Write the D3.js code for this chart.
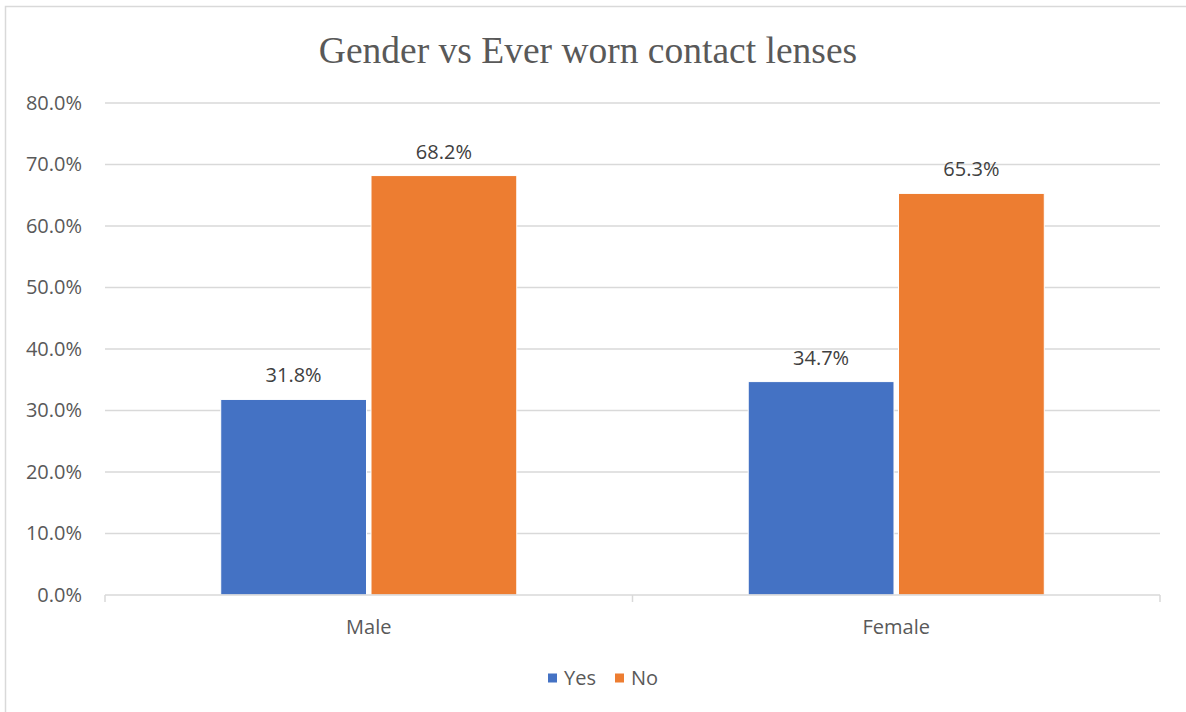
<!DOCTYPE html>
<html>
<head>
<meta charset="utf-8">
<script src="https://cdn.jsdelivr.net/npm/d3@7"></script>
<style>
  body { margin: 0; background: #fff; }
  svg { display: block; }
</style>
</head>
<body>
<div id="chart"></div>
<script>
const categories = ["Male", "Female"];
const seriesNames = ["Yes", "No"];
const yesValues = [31.8, 34.7];
const noValues = [68.2, 65.3];
const yTicks = [0, 10, 20, 30, 40, 50, 60, 70, 80];
const colors = ["#4472c4", "#ed7d31"];

const width = 1186, height = 712;
const margin = { top: 103, right: 26, bottom: 117, left: 105 };
const font = "'Open Sans', sans-serif";

const svg = d3.select("#chart")
    .append("svg")
    .attr("width", width)
    .attr("height", height);

// chart border
svg.append("rect")
    .attr("x", 5.5).attr("y", 6.5)
    .attr("width", width + 10).attr("height", height + 10)
    .attr("fill", "none")
    .attr("stroke", "#d9d9d9")
    .attr("stroke-width", 1.5);

// title
svg.append("text")
    .attr("x", 588).attr("y", 63)
    .attr("text-anchor", "middle")
    .style("font-family", "'Liberation Serif', 'Times New Roman', serif")
    .style("font-size", "37.5px")
    .style("fill", "#595959")
    .text("Gender vs Ever worn contact lenses");

const x0 = d3.scaleBand()
    .domain(categories)
    .range([margin.left, width - margin.right]);

const x1 = d3.scaleBand()
    .domain(seriesNames)
    .range([0, x0.bandwidth()])
    .paddingInner(0.03)
    .paddingOuter(0.77);

const y = d3.scaleLinear()
    .domain([0, 80])
    .range([height - margin.bottom, margin.top]);

// gridlines
svg.append("g")
    .selectAll("line")
    .data(yTicks.filter(d => d > 0))
    .enter()
    .append("line")
    .attr("x1", margin.left).attr("x2", width - margin.right)
    .attr("y1", d => y(d)).attr("y2", d => y(d))
    .style("stroke", "#d9d9d9")
    .style("stroke-width", 1.5);

// y axis labels
const yAxis = svg.append("g")
    .attr("transform", `translate(${margin.left},0)`)
    .call(d3.axisLeft(y).tickValues(yTicks).tickFormat(d => d.toFixed(1) + "%").tickSize(0).tickPadding(23));
yAxis.select(".domain").remove();
yAxis.selectAll("text")
    .style("font-family", font)
    .style("font-size", "20px")
    .style("fill", "#595959");

// bars
const rows = categories.map((c, i) => ({ cat: c, values: [yesValues[i], noValues[i]] }));

const groups = svg.selectAll(".group")
    .data(rows)
    .enter()
    .append("g")
    .attr("class", "group")
    .attr("transform", d => `translate(${x0(d.cat)},0)`);

groups.selectAll("rect")
    .data(d => d.values.map((v, j) => ({ name: seriesNames[j], value: v, color: colors[j] })))
    .enter()
    .append("rect")
    .attr("x", d => x1(d.name))
    .attr("y", d => y(d.value))
    .attr("width", x1.bandwidth())
    .attr("height", d => y(0) - y(d.value))
    .style("fill", d => d.color)
    .style("stroke", "#fff")
    .style("stroke-width", 1);

// data labels
groups.selectAll(".val")
    .data(d => d.values.map((v, j) => ({ name: seriesNames[j], value: v })))
    .enter()
    .append("text")
    .attr("class", "val")
    .attr("x", d => x1(d.name) + x1.bandwidth() / 2)
    .attr("y", d => y(d.value) - 17)
    .attr("text-anchor", "middle")
    .style("font-family", font)
    .style("font-size", "20px")
    .style("fill", "#404040")
    .text(d => d.value.toFixed(1) + "%");

// x axis
const xAxis = svg.append("g")
    .attr("transform", `translate(0,${y(0)})`)
    .call(d3.axisBottom(x0).tickSize(0).tickPadding(25));
xAxis.select(".domain").remove();
xAxis.selectAll("text")
    .style("font-family", font)
    .style("font-size", "20px")
    .style("fill", "#595959");

svg.append("line")
    .attr("x1", margin.left).attr("x2", width - margin.right)
    .attr("y1", y(0)).attr("y2", y(0))
    .style("stroke", "#d9d9d9").style("stroke-width", 1.5);

const tickXs = [margin.left].concat(categories.map(c => x0(c) + x0.bandwidth()));
svg.selectAll(".xtick")
    .data(tickXs)
    .enter()
    .append("line")
    .attr("x1", d => d).attr("x2", d => d)
    .attr("y1", y(0)).attr("y2", y(0) + 7)
    .style("stroke", "#d9d9d9").style("stroke-width", 1.5);

// legend
const legendX = [548, 615];
const legend = svg.selectAll(".legend")
    .data(seriesNames)
    .enter()
    .append("g")
    .attr("transform", (d, i) => `translate(${legendX[i]},678)`);
legend.append("rect")
    .attr("x", 0).attr("y", -4.5)
    .attr("width", 9).attr("height", 9)
    .style("fill", (d, i) => colors[i]);
legend.append("text")
    .attr("x", 16).attr("y", 7)
    .style("font-family", font)
    .style("font-size", "20px")
    .style("fill", "#595959")
    .text(d => d);
</script>
</body>
</html>
